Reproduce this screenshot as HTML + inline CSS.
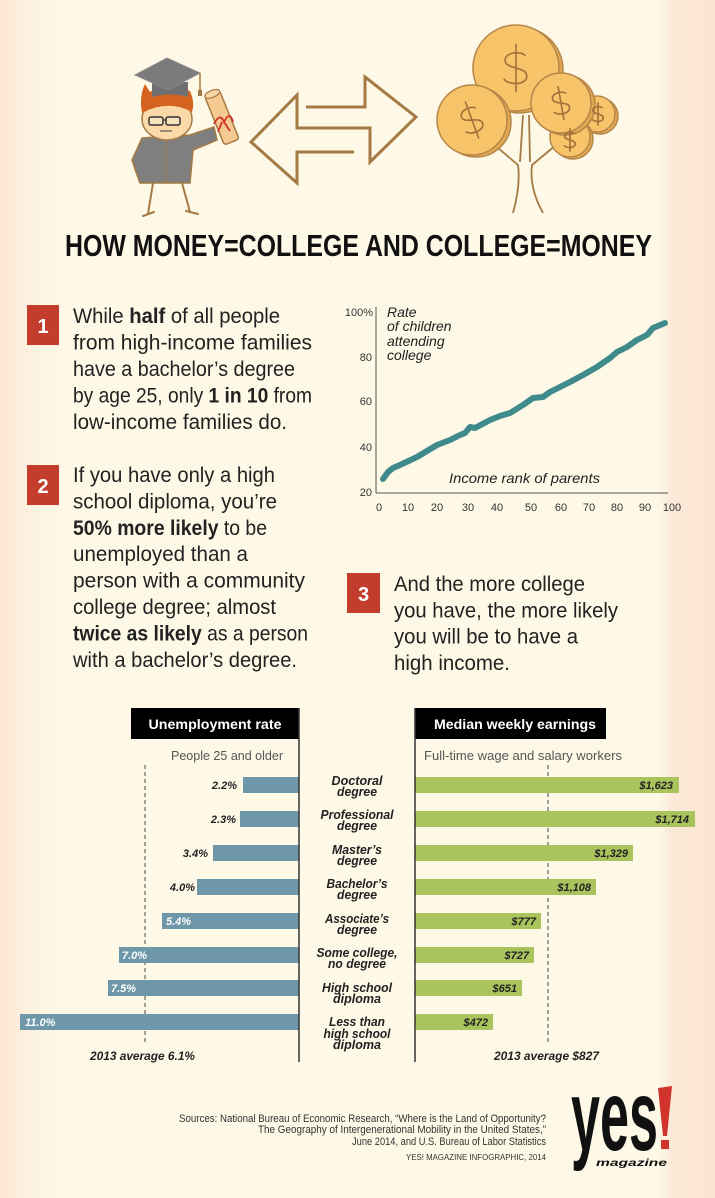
<!DOCTYPE html>
<html><head><meta charset="utf-8"><style>
html,body{margin:0;padding:0;background:#fef8e6;}
svg{display:block;}
text{font-family:"Liberation Sans",sans-serif;}
</style></head><body>
<svg width="715" height="1198" viewBox="0 0 715 1198" xmlns="http://www.w3.org/2000/svg">
<defs>
<linearGradient id="gl" x1="0" x2="1" y1="0" y2="0"><stop offset="0" stop-color="#fbe4d2"/><stop offset="1" stop-color="#fef8e6" stop-opacity="0"/></linearGradient>
<linearGradient id="gr" x1="0" x2="1" y1="0" y2="0"><stop offset="0" stop-color="#fef8e6" stop-opacity="0"/><stop offset="0.25" stop-color="#fce9d7"/><stop offset="1" stop-color="#fbe5d3"/></linearGradient>
</defs>
<rect x="0" y="0" width="715" height="1198" fill="#fef8e6"/>
<rect x="0" y="0" width="75" height="1198" fill="url(#gl)"/>
<rect x="655" y="0" width="60" height="1198" fill="url(#gr)"/>

<!-- Graduate figure -->
<g stroke="#a47a45" stroke-width="2" fill="none" stroke-linecap="round">
<line x1="153" y1="183" x2="148" y2="214"/><line x1="182" y1="183" x2="190" y2="212"/>
<line x1="143" y1="216" x2="154" y2="212"/><line x1="186" y1="211" x2="198" y2="214"/>
</g>
<path d="M142,138 L132,160 L136,172 L140,183 L190,183 L193,150 L217,140 L214,127 L190,135 Z" fill="#7f7f80" stroke="#a47a45" stroke-width="1.5"/>
<line x1="166" y1="140" x2="166" y2="183" stroke="#a47a45" stroke-width="1"/>
<ellipse cx="167" cy="119" rx="25" ry="21" fill="#fbd9a8" stroke="#a47a45" stroke-width="1.5"/>
<path d="M142,113 Q139,96 145,84 L150,92 Q166,80 190,91 Q195,102 192,112 Q168,99 142,113 Z" fill="#d4631f"/>
<path d="M152,82 L188,82 L188,97 Q170,92 152,97 Z" fill="#6f6f71"/>
<polygon points="135,75 167,58 200,73 168,90" fill="#7b7b7d" stroke="#8a8a8a" stroke-width="1"/>
<line x1="200" y1="73" x2="200" y2="93" stroke="#a47a45" stroke-width="1.5"/>
<rect x="198" y="90" width="4" height="6" fill="#a47a45"/>
<rect x="149" y="117" width="14" height="8" rx="2" fill="#f7e2be" stroke="#333" stroke-width="1.5"/>
<rect x="166" y="117" width="14" height="8" rx="2" fill="#f7e2be" stroke="#333" stroke-width="1.5"/>
<line x1="163" y1="120" x2="166" y2="120" stroke="#333" stroke-width="1.2"/>
<line x1="160" y1="131" x2="172" y2="131" stroke="#555" stroke-width="1.2"/>
<g transform="translate(222,118) rotate(-22)">
<rect x="-8" y="-26" width="16" height="52" rx="3" fill="#f5c990" stroke="#a47a45" stroke-width="1.5"/>
<ellipse cx="0" cy="-26" rx="8" ry="3.5" fill="#f8d5a6" stroke="#a47a45" stroke-width="1.2"/>
</g>
<path d="M214,124 Q220,112 224,122 Q230,110 233,122 M222,122 L218,132 M224,122 L230,131" stroke="#d0342c" stroke-width="1.8" fill="none"/>

<!-- Double arrow -->
<path d="M306,107 L365,107 L365,77 L416,117 L370,162 L370,128 L297,128 L297,95 L251,142 L297,183 L297,152 L354,152" fill="none" stroke="#a47a45" stroke-width="3" stroke-linejoin="miter"/>

<!-- Money tree -->
<g stroke="#a47a45" stroke-width="1.8" fill="none">
<path d="M513,213 C518,195 520,180 518,165 L498,148"/>
<path d="M543,213 C533,195 530,180 532,165 L556,145"/>
<path d="M520,162 L523,115 M530,162 L529,115"/>
</g>
<g stroke="#b5864a" stroke-width="1.5">
<circle cx="600" cy="116" r="18" fill="#e2a850"/><circle cx="597" cy="114" r="18" fill="#f7c46a"/>
<circle cx="573" cy="139" r="20" fill="#e2a850"/><circle cx="570" cy="137" r="20" fill="#f7c46a"/>
<circle cx="520" cy="70" r="43" fill="#e2a850"/><circle cx="516" cy="68" r="43" fill="#f7c46a"/>
<circle cx="476" cy="122" r="35" fill="#e2a850"/><circle cx="472" cy="120" r="35" fill="#f7c46a"/>
<circle cx="565" cy="105" r="30" fill="#e2a850"/><circle cx="561" cy="103" r="30" fill="#f7c46a"/>
</g>
<g stroke="#a0703a" stroke-width="1.6" fill="none">
<path transform="translate(598,114) scale(13)" vector-effect="non-scaling-stroke" d="M0.35,-0.45 C0.2,-0.65 -0.45,-0.6 -0.4,-0.25 C-0.35,0.05 0.4,-0.05 0.4,0.3 C0.4,0.65 -0.3,0.65 -0.45,0.4 M0,-0.9 L0,0.9"/>
<path transform="translate(570,140) scale(13)" vector-effect="non-scaling-stroke" d="M0.35,-0.45 C0.2,-0.65 -0.45,-0.6 -0.4,-0.25 C-0.35,0.05 0.4,-0.05 0.4,0.3 C0.4,0.65 -0.3,0.65 -0.45,0.4 M0,-0.9 L0,0.9"/>
<path transform="translate(516,68) scale(27)" vector-effect="non-scaling-stroke" d="M0.35,-0.45 C0.2,-0.65 -0.45,-0.6 -0.4,-0.25 C-0.35,0.05 0.4,-0.05 0.4,0.3 C0.4,0.65 -0.3,0.65 -0.45,0.4 M0,-0.9 L0,0.9"/>
<path transform="translate(472,120) rotate(-20) scale(22)" vector-effect="non-scaling-stroke" d="M0.35,-0.45 C0.2,-0.65 -0.45,-0.6 -0.4,-0.25 C-0.35,0.05 0.4,-0.05 0.4,0.3 C0.4,0.65 -0.3,0.65 -0.45,0.4 M0,-0.9 L0,0.9"/>
<path transform="translate(561,103) rotate(-10) scale(19)" vector-effect="non-scaling-stroke" d="M0.35,-0.45 C0.2,-0.65 -0.45,-0.6 -0.4,-0.25 C-0.35,0.05 0.4,-0.05 0.4,0.3 C0.4,0.65 -0.3,0.65 -0.45,0.4 M0,-0.9 L0,0.9"/>
</g>

<!-- Title -->
<text x="65" y="256" font-size="31" font-weight="bold" fill="#111" textLength="587" lengthAdjust="spacingAndGlyphs">HOW MONEY=COLLEGE AND COLLEGE=MONEY</text>

<!-- Section 1 -->
<rect x="27" y="305" width="32" height="40" fill="#c43d2c"/>
<text x="43" y="333" font-size="20" font-weight="bold" fill="#fff" text-anchor="middle">1</text>
<g font-size="21" fill="#222">
<text x="73" y="323" textLength="207" lengthAdjust="spacingAndGlyphs">While <tspan font-weight="bold">half</tspan> of all people</text>
<text x="73" y="349.5" textLength="239" lengthAdjust="spacingAndGlyphs">from high-income families</text>
<text x="73" y="376" textLength="222" lengthAdjust="spacingAndGlyphs">have a bachelor’s degree</text>
<text x="73" y="402.5" textLength="239" lengthAdjust="spacingAndGlyphs">by age 25, only <tspan font-weight="bold">1 in 10</tspan> from</text>
<text x="73" y="429" textLength="214" lengthAdjust="spacingAndGlyphs">low-income families do.</text>
</g>

<!-- Section 2 -->
<rect x="27" y="465" width="32" height="40" fill="#c43d2c"/>
<text x="43" y="493" font-size="20" font-weight="bold" fill="#fff" text-anchor="middle">2</text>
<g font-size="21" fill="#222">
<text x="73" y="482" textLength="202" lengthAdjust="spacingAndGlyphs">If you have only a high</text>
<text x="73" y="508.4" textLength="204" lengthAdjust="spacingAndGlyphs">school diploma, you’re</text>
<text x="73" y="534.8" textLength="194" lengthAdjust="spacingAndGlyphs"><tspan font-weight="bold">50% more likely</tspan> to be</text>
<text x="73" y="561.2" textLength="175" lengthAdjust="spacingAndGlyphs">unemployed than a</text>
<text x="73" y="587.6" textLength="232" lengthAdjust="spacingAndGlyphs">person with a community</text>
<text x="73" y="614" textLength="203" lengthAdjust="spacingAndGlyphs">college degree; almost</text>
<text x="73" y="640.4" textLength="235" lengthAdjust="spacingAndGlyphs"><tspan font-weight="bold">twice as likely</tspan> as a person</text>
<text x="73" y="666.8" textLength="224" lengthAdjust="spacingAndGlyphs">with a bachelor’s degree.</text>
</g>

<!-- Section 3 -->
<rect x="347" y="573" width="33" height="40" fill="#c43d2c"/>
<text x="363.5" y="601" font-size="20" font-weight="bold" fill="#fff" text-anchor="middle">3</text>
<g font-size="21" fill="#222">
<text x="394" y="591" textLength="191" lengthAdjust="spacingAndGlyphs">And the more college</text>
<text x="394" y="617.3" textLength="224" lengthAdjust="spacingAndGlyphs">you have, the more likely</text>
<text x="394" y="643.6" textLength="184" lengthAdjust="spacingAndGlyphs">you will be to have a</text>
<text x="394" y="670" textLength="116" lengthAdjust="spacingAndGlyphs">high income.</text>
</g>

<!-- Line chart -->
<line x1="376" y1="307" x2="376" y2="493" stroke="#555" stroke-width="1"/>
<line x1="376" y1="493" x2="668" y2="493" stroke="#555" stroke-width="1"/>
<g font-size="11" fill="#333" text-anchor="end">
<text x="373" y="316">100%</text><text x="372" y="361">80</text><text x="372" y="405">60</text><text x="372" y="451">40</text><text x="372" y="496">20</text>
</g>
<g font-size="11" fill="#333" text-anchor="middle">
<text x="379" y="511">0</text><text x="408" y="511">10</text><text x="437" y="511">20</text><text x="468" y="511">30</text><text x="497" y="511">40</text><text x="531" y="511">50</text><text x="561" y="511">60</text><text x="589" y="511">70</text><text x="617" y="511">80</text><text x="645" y="511">90</text><text x="672" y="511">100</text>
</g>
<g font-size="14" font-style="italic" fill="#222">
<text x="387" y="317">Rate</text>
<text x="387" y="331">of children</text>
<text x="387" y="346">attending</text>
<text x="387" y="360">college</text>
<text x="449" y="483" textLength="151" lengthAdjust="spacingAndGlyphs">Income rank of parents</text>
</g>
<polyline fill="none" stroke="#3f8a8a" stroke-width="6" stroke-linejoin="round" stroke-linecap="round" points="383,479 388,472 393,468 400,465 417,457 437,445 450,440 460,435 465,433 470,427 475,428 490,420 500,416 510,413 523,405 533,398 543,397 550,392 560,387 570,382 583,375 597,367 610,358 617,352 627,347 637,340 647,335 653,328 665,323"/>

<!-- Bar chart headers -->
<rect x="131" y="708" width="168" height="31" fill="#000"/>
<text x="215" y="729" font-size="13.5" font-weight="bold" fill="#fff" text-anchor="middle" textLength="133" lengthAdjust="spacingAndGlyphs">Unemployment rate</text>
<rect x="415" y="708" width="191" height="31" fill="#000"/>
<text x="515" y="729" font-size="13.5" font-weight="bold" fill="#fff" text-anchor="middle" textLength="162" lengthAdjust="spacingAndGlyphs">Median weekly earnings</text>
<text x="171" y="760" font-size="12.5" fill="#555" textLength="112" lengthAdjust="spacingAndGlyphs">People 25 and older</text>
<text x="424" y="760" font-size="12.5" fill="#555" textLength="198" lengthAdjust="spacingAndGlyphs">Full-time wage and salary workers</text>

<line x1="145" y1="765" x2="145" y2="1045" stroke="#666" stroke-width="1.2" stroke-dasharray="4,3"/>
<line x1="548" y1="765" x2="548" y2="1045" stroke="#666" stroke-width="1.2" stroke-dasharray="4,3"/>

<!-- Left bars -->
<g fill="#6e98a9">
<rect x="243" y="777" width="56" height="16"/>
<rect x="240" y="811" width="59" height="16"/>
<rect x="213" y="845" width="86" height="16"/>
<rect x="197" y="879" width="102" height="16"/>
<rect x="162" y="913" width="137" height="16"/>
<rect x="119" y="947" width="180" height="16"/>
<rect x="108" y="980" width="191" height="16"/>
<rect x="20" y="1014" width="279" height="16"/>
</g>
<g font-size="11" font-weight="bold" font-style="italic">
<text x="237" y="789" fill="#222" text-anchor="end">2.2%</text>
<text x="236" y="823" fill="#222" text-anchor="end">2.3%</text>
<text x="208" y="857" fill="#222" text-anchor="end">3.4%</text>
<text x="195" y="891" fill="#222" text-anchor="end">4.0%</text>
<text x="166" y="925" fill="#fff">5.4%</text>
<text x="122" y="959" fill="#fff">7.0%</text>
<text x="111" y="992" fill="#fff">7.5%</text>
<text x="25" y="1026" fill="#fff">11.0%</text>
</g>

<!-- Right bars -->
<g fill="#a9c45c">
<rect x="415" y="777" width="264" height="16"/>
<rect x="415" y="811" width="280" height="16"/>
<rect x="415" y="845" width="218" height="16"/>
<rect x="415" y="879" width="181" height="16"/>
<rect x="415" y="913" width="126" height="16"/>
<rect x="415" y="947" width="119" height="16"/>
<rect x="415" y="980" width="107" height="16"/>
<rect x="415" y="1014" width="78" height="16"/>
</g>
<g font-size="11" font-weight="bold" font-style="italic" fill="#222" text-anchor="end">
<text x="673" y="789">$1,623</text>
<text x="689" y="823">$1,714</text>
<text x="628" y="857">$1,329</text>
<text x="591" y="891">$1,108</text>
<text x="536" y="925">$777</text>
<text x="529" y="959">$727</text>
<text x="517" y="992">$651</text>
<text x="488" y="1026">$472</text>
</g>

<line x1="299" y1="708" x2="299" y2="1062" stroke="#333" stroke-width="1.5"/>
<line x1="415" y1="708" x2="415" y2="1062" stroke="#333" stroke-width="1.5"/>

<!-- Category labels -->
<g font-size="12.5" font-weight="bold" font-style="italic" fill="#222" text-anchor="middle">
<text x="357" y="785" textLength="51" lengthAdjust="spacingAndGlyphs">Doctoral</text>
<text x="357" y="796" textLength="40" lengthAdjust="spacingAndGlyphs">degree</text>
<text x="357" y="819" textLength="73" lengthAdjust="spacingAndGlyphs">Professional</text>
<text x="357" y="830" textLength="40" lengthAdjust="spacingAndGlyphs">degree</text>
<text x="357" y="854" textLength="50" lengthAdjust="spacingAndGlyphs">Master’s</text>
<text x="357" y="865" textLength="40" lengthAdjust="spacingAndGlyphs">degree</text>
<text x="357" y="888" textLength="61" lengthAdjust="spacingAndGlyphs">Bachelor’s</text>
<text x="357" y="899" textLength="40" lengthAdjust="spacingAndGlyphs">degree</text>
<text x="357" y="923" textLength="64" lengthAdjust="spacingAndGlyphs">Associate’s</text>
<text x="357" y="934" textLength="40" lengthAdjust="spacingAndGlyphs">degree</text>
<text x="357" y="957" textLength="81" lengthAdjust="spacingAndGlyphs">Some college,</text>
<text x="357" y="968" textLength="58" lengthAdjust="spacingAndGlyphs">no degree</text>
<text x="357" y="992" textLength="70" lengthAdjust="spacingAndGlyphs">High school</text>
<text x="357" y="1003" textLength="48" lengthAdjust="spacingAndGlyphs">diploma</text>
<text x="357" y="1026" textLength="56" lengthAdjust="spacingAndGlyphs">Less than</text>
<text x="357" y="1038" textLength="67" lengthAdjust="spacingAndGlyphs">high school</text>
<text x="357" y="1049" textLength="48" lengthAdjust="spacingAndGlyphs">diploma</text>
</g>

<g font-size="12" font-weight="bold" font-style="italic" fill="#222">
<text x="90" y="1060" textLength="105" lengthAdjust="spacingAndGlyphs">2013 average 6.1%</text>
<text x="494" y="1060" textLength="105" lengthAdjust="spacingAndGlyphs">2013 average $827</text>
</g>

<!-- Footer -->
<g font-size="11" fill="#333">
<text x="179" y="1122" textLength="367" lengthAdjust="spacingAndGlyphs">Sources:  National Bureau of Economic Research, “Where is the Land of Opportunity?</text>
<text x="258" y="1133" textLength="288" lengthAdjust="spacingAndGlyphs">The Geography of Intergenerational Mobility in the United States,”</text>
<text x="352" y="1145" textLength="194" lengthAdjust="spacingAndGlyphs">June 2014, and U.S. Bureau of Labor Statistics</text>
<text x="406" y="1160" font-size="8.5" textLength="140" lengthAdjust="spacingAndGlyphs">YES! MAGAZINE  INFOGRAPHIC, 2014</text>
</g>

<!-- Logo -->
<text x="571" y="1150" font-family="Liberation Serif, serif" font-size="100" font-weight="bold" fill="#111" textLength="87" lengthAdjust="spacingAndGlyphs">yes</text>
<polygon points="658,1088 672,1086 667,1136 663,1136" fill="#d0342c"/>
<rect x="661" y="1140" width="8" height="9" fill="#d0342c"/>
<text x="596" y="1166" font-family="Liberation Serif, serif" font-size="10" font-weight="bold" font-style="italic" fill="#111" textLength="71" lengthAdjust="spacingAndGlyphs">magazine</text>
</svg>
</body></html>
